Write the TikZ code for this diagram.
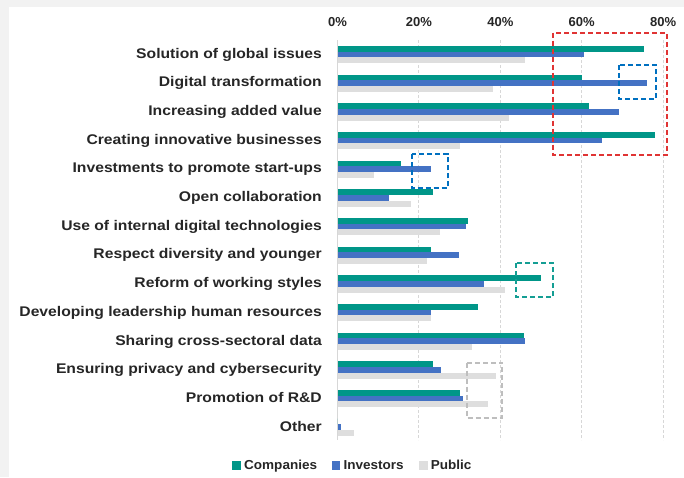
\documentclass[tikz,border=0pt]{standalone}
\usepackage{fontspec}
\setmainfont{Liberation Sans}
\newfontfamily\labfont{Liberation Sans}[FakeStretch=1.12]
\newfontfamily\legfont{Liberation Sans}[FakeStretch=1.04]
\definecolor{cteal}{RGB}{0,150,136}
\definecolor{cblue}{RGB}{68,114,196}
\definecolor{cgray}{RGB}{222,222,222}
\definecolor{cred}{RGB}{224,52,52}
\definecolor{cdblue}{RGB}{0,112,192}
\definecolor{cdteal}{RGB}{20,158,148}
\definecolor{cdgray}{RGB}{190,190,190}
\definecolor{cframe}{RGB}{242,242,242}
\definecolor{ctext}{RGB}{38,38,38}
\definecolor{cgrid}{RGB}{215,215,215}
\begin{document}
\begin{tikzpicture}[x=1pt,y=-1pt,
  lab/.style={font=\labfont\bfseries\fontsize{14}{16}\selectfont, text=ctext, inner sep=0pt},
  tick/.style={font=\bfseries\fontsize{13}{15}\selectfont, text=ctext, inner sep=0pt, anchor=base},
  leg/.style={font=\legfont\bfseries\fontsize{13}{15}\selectfont, text=ctext, inner sep=0pt, anchor=base west},
  grid/.style={draw=cgrid, line width=0.9pt, dash pattern=on 3pt off 2pt},
  dbox/.style={line width=1.8pt, dash pattern=on 5pt off 3pt}]
\fill[cframe] (0,0) rectangle (684,477);
\fill[white] (9,7) rectangle (684,477);
\useasboundingbox (0,0) rectangle (684,477);
% gridlines and ticks
\foreach \v in {20,40,60,80}
  \draw[grid] ({337.5+4.07*\v},40) -- ({337.5+4.07*\v},440);
\foreach \v in {0,20,40,60,80}
  \node[tick] (t\v) at ({337.5+4.07*\v},26) {\v\%};
\draw[cgrid, line width=1.2pt] (337.5,40) -- (337.5,440);
% bars
\foreach \i/\lab/\a/\b/\c in {
  0/{Solution of global issues}/75.3/60.6/46,
  1/{Digital transformation}/60/76.1/38.1,
  2/{Increasing added value}/61.7/69.2/42.1,
  3/{Creating innovative businesses}/77.9/64.9/30,
  4/{Investments to promote start-ups}/15.6/23/8.9,
  5/{Open collaboration}/23.4/12.7/18,
  6/{Use of internal digital technologies}/32.1/31.6/25.1,
  7/{Respect diversity and younger}/23/29.9/21.9,
  8/{Reform of working styles}/50.1/35.9/41.1,
  9/{Developing leadership human resources}/34.4/23/22.9,
  10/{Sharing cross-sectoral data}/45.7/46.1/33,
  11/{Ensuring privacy and cybersecurity}/23.4/25.5/39,
  12/{Promotion of R\&D}/30/30.8/36.9,
  13/{Other}/0/0.9/4}
{
  \fill[cteal] (337.5,{46+28.67*\i}) rectangle ({337.5+4.07*\a},{51.67+28.67*\i});
  \fill[cblue] (337.5,{51.67+28.67*\i}) rectangle ({337.5+4.07*\b},{57.33+28.67*\i});
  \fill[cgray] (337.5,{57.33+28.67*\i}) rectangle ({337.5+4.07*\c},{63.2+28.67*\i});
  \node[lab, anchor=base east] (l\i) at (322,{58.3+28.67*\i}) {\lab};
}
% highlight boxes
\draw[dbox, cred] (553.3,32.7) rectangle (666.7,155);
\draw[dbox, cdblue] (619.3,65.3) rectangle (656,99.3);
\draw[dbox, cdblue] (412,154) rectangle (447.7,188.3);
\draw[dbox, cdteal] (516.3,263.3) rectangle (553,297.3);
\draw[dbox, cdgray] (466.7,362.7) rectangle (502.3,417.7);
% legend
\fill[cteal] (232.3,461.3) rectangle (240.8,469.8);
\node[leg] (g1) at (244,469.7) {Companies};
\fill[cblue] (331.7,461.3) rectangle (340.2,469.8);
\node[leg] (g2) at (343.3,469.7) {Investors};
\fill[cgray] (419,461.3) rectangle (427.5,469.8);
\node[leg] (g3) at (430.7,469.7) {Public};
\end{tikzpicture}
\end{document}
